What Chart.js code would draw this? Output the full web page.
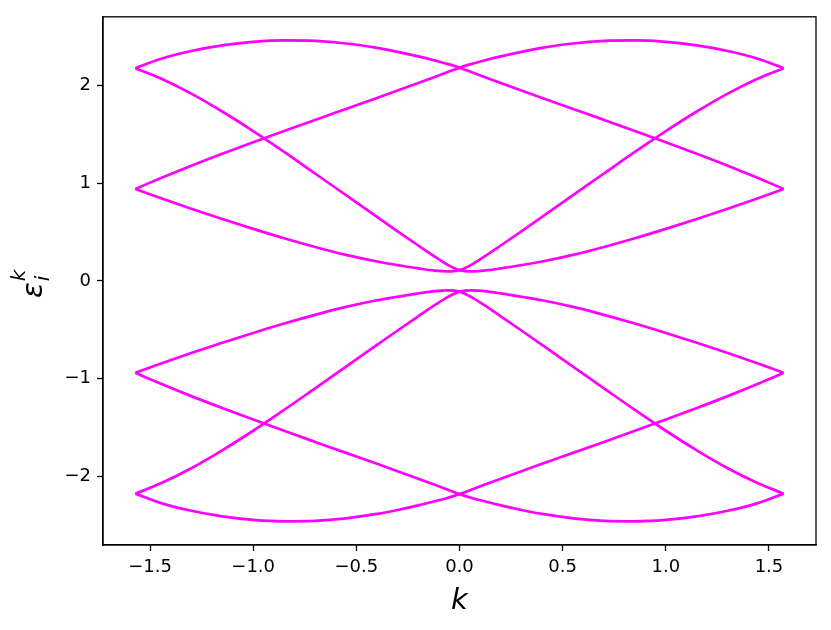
<!DOCTYPE html>
<html>
<head>
<meta charset="utf-8">
<script src="https://cdn.jsdelivr.net/npm/chart.js@4"></script>
<style>
  html, body { margin: 0; padding: 0; background: #fff; }
  #bands { display: block; }
</style>
</head>
<body>
<canvas id="bands" width="831" height="630"></canvas>
<script>
'use strict';

/* --- Data --- */
const kGrid = [-1.571, -1.45, -1.3, -1.15, -1.0, -0.85, -0.7, -0.55, -0.4, -0.3, -0.2, -0.12, -0.06, 0,
               0.06, 0.12, 0.2, 0.3, 0.4, 0.55, 0.7, 0.85, 1.0, 1.15, 1.3, 1.45, 1.571];

// upper bands
const bandA = [2.175, 2.269, 2.350, 2.407, 2.443, 2.458, 2.453, 2.427, 2.382, 2.342, 2.295, 2.253, 2.219, 2.180,
               2.132, 2.085, 2.023, 1.946, 1.870, 1.758, 1.646, 1.533, 1.418, 1.300, 1.178, 1.049, 0.940];
const bandB = [0.940, 1.049, 1.178, 1.300, 1.418, 1.533, 1.646, 1.758, 1.870, 1.946, 2.023, 2.085, 2.132, 2.180,
               2.219, 2.253, 2.295, 2.342, 2.382, 2.427, 2.453, 2.458, 2.443, 2.407, 2.350, 2.269, 2.175];
const bandC = [2.175, 2.072, 1.915, 1.732, 1.532, 1.319, 1.098, 0.876, 0.654, 0.507, 0.362, 0.248, 0.168, 0.110,
               0.097, 0.105, 0.128, 0.162, 0.198, 0.266, 0.347, 0.436, 0.532, 0.633, 0.738, 0.848, 0.940];
const bandD = [0.940, 0.848, 0.738, 0.633, 0.532, 0.436, 0.347, 0.266, 0.198, 0.162, 0.128, 0.105, 0.097, 0.110,
               0.168, 0.248, 0.362, 0.507, 0.654, 0.876, 1.098, 1.319, 1.532, 1.732, 1.915, 2.072, 2.175];

// lower bands
const bandE = [-2.175, -2.269, -2.350, -2.407, -2.443, -2.458, -2.453, -2.427, -2.382, -2.342, -2.295, -2.253, -2.219, -2.180,
               -2.132, -2.085, -2.023, -1.946, -1.870, -1.758, -1.646, -1.533, -1.418, -1.300, -1.178, -1.049, -0.940];
const bandF = [-0.940, -1.049, -1.178, -1.300, -1.418, -1.533, -1.646, -1.758, -1.870, -1.946, -2.023, -2.085, -2.132, -2.180,
               -2.219, -2.253, -2.295, -2.342, -2.382, -2.427, -2.453, -2.458, -2.443, -2.407, -2.350, -2.269, -2.175];
const bandG = [-2.175, -2.072, -1.915, -1.732, -1.532, -1.319, -1.098, -0.876, -0.654, -0.507, -0.362, -0.248, -0.168, -0.110,
               -0.097, -0.105, -0.128, -0.162, -0.198, -0.266, -0.347, -0.436, -0.532, -0.633, -0.738, -0.848, -0.940];
const bandH = [-0.940, -0.848, -0.738, -0.633, -0.532, -0.436, -0.347, -0.266, -0.198, -0.162, -0.128, -0.105, -0.097, -0.110,
               -0.168, -0.248, -0.362, -0.507, -0.654, -0.876, -1.098, -1.319, -1.532, -1.732, -1.915, -2.072, -2.175];

const xTicks = [-1.5, -1.0, -0.5, 0.0, 0.5, 1.0, 1.5];
const yTicks = [-2, -1, 0, 1, 2];

/* --- Look --- */
const LINE = '#ff00ff';
const FONT = '"DejaVu Sans", sans-serif';
const minus = s => s.replace('-', '\u2212');

const bands = [bandA, bandB, bandC, bandD, bandE, bandF, bandG, bandH];
const datasets = bands.map(b => ({
  data: kGrid.map((k, i) => ({ x: k, y: b[i] })),
  borderColor: LINE,
  borderWidth: 2.7,
  pointRadius: 0,
  fill: false,
  cubicInterpolationMode: 'monotone'
}));

// frame on all four sides + math axis labels
const framePlugin = {
  id: 'frame',
  afterDraw(chart) {
    const { ctx, chartArea: a } = chart;
    ctx.save();
    ctx.strokeStyle = '#000';
    ctx.lineWidth = 1.3;
    ctx.strokeRect(a.left, a.top, a.right - a.left, a.bottom - a.top);

    ctx.fillStyle = '#000';
    // x label
    ctx.font = `italic 29px ${FONT}`;
    ctx.textAlign = 'center';
    ctx.textBaseline = 'alphabetic';
    ctx.fillText('k', (a.left + a.right) / 2, 609);

    // y label: epsilon_i^k, rotated
    ctx.translate(42, 298);
    ctx.rotate(-Math.PI / 2);
    ctx.textAlign = 'left';
    ctx.font = `italic 29px ${FONT}`;
    ctx.fillText('\u03b5', 0, 0);
    const w = ctx.measureText('\u03b5').width;
    ctx.font = `italic 20px ${FONT}`;
    ctx.fillText('i', w + 1, 7);
    ctx.fillText('k', w + 1, -17);
    ctx.restore();
  }
};

new Chart(document.getElementById('bands').getContext('2d'), {
  type: 'line',
  data: { datasets },
  options: {
    responsive: false,
    animation: false,
    layout: { padding: { left: 0, top: 14, right: 15, bottom: 0 } },
    plugins: { legend: { display: false }, tooltip: { enabled: false } },
    scales: {
      x: {
        type: 'linear',
        min: -1.7279,
        max: 1.7279,
        afterBuildTicks: s => { s.ticks = xTicks.map(v => ({ value: v })); },
        afterFit: s => { s.height = 85; },
        ticks: {
          color: '#000',
          font: { family: FONT, size: 18 },
          padding: 6,
          maxRotation: 0,
          callback: v => minus(Number(v).toFixed(1))
        },
        grid: { drawOnChartArea: false, drawTicks: true, tickLength: 6, color: '#000', tickWidth: 1.3 },
        border: { display: true, color: '#000', width: 1.3 }
      },
      y: {
        type: 'linear',
        min: -2.70,
        max: 2.70,
        afterBuildTicks: s => { s.ticks = yTicks.map(v => ({ value: v })); },
        afterFit: s => { s.width = 103; },
        ticks: {
          color: '#000',
          font: { family: FONT, size: 18 },
          padding: 6,
          callback: v => minus(String(v))
        },
        grid: { drawOnChartArea: false, drawTicks: true, tickLength: 6, color: '#000', tickWidth: 1.3 },
        border: { display: true, color: '#000', width: 1.3 }
      }
    }
  },
  plugins: [framePlugin]
});
</script>
</body>
</html>
